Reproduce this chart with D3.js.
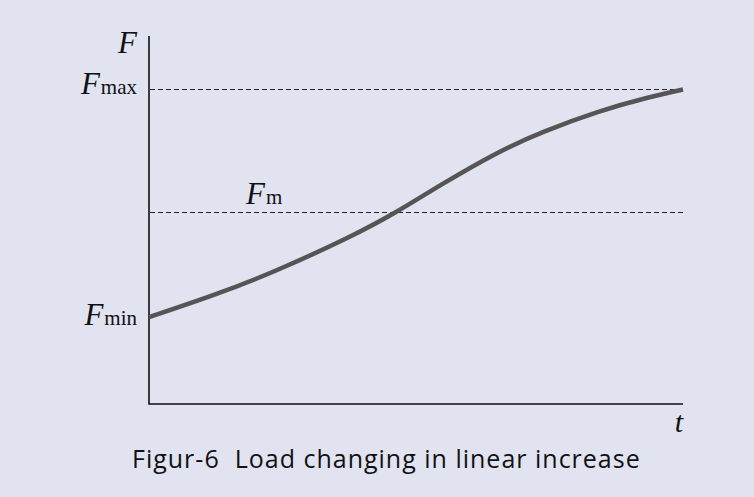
<!DOCTYPE html>
<html>
<head>
<meta charset="utf-8">
<script src="https://cdn.jsdelivr.net/npm/d3@7"></script>
<style>
	body { margin:0; background:#e1e3f1; }
	svg { display:block; }
</style>
</head>
<body>
<svg class="chart"></svg>
<script>

// load curve (t in arbitrary units, F in % of Fmax)
var tValues = [0, 1.2, 2.4, 3.7, 4.6, 5.5, 6.5, 7.4, 8.4, 9.3, 10];
var fValues = [27.6, 34.6, 42.6, 52.7, 60.8, 70.0, 79.6, 86.6, 92.8, 97.2, 100];

// reference levels
var levelNames = ['max', 'm', 'min'];
var levelValues = [100, 61.2, 27.6];

var caption = 'Figur-6\u00a0\u00a0Load changing in linear increase';

var config = {
	width: 754,
	height: 497,
	left: 149,
	right: 683,
	top: 36,
	bottom: 404,
	tMax: 10,
	fMax: 117,
	mathFont: '"Liberation Serif", "DejaVu Serif", serif',
};

var data = tValues.map((t,i) => ({t:t, f:fValues[i]}));

var xScale = d3.scaleLinear()
				.domain([0,config.tMax])
				.range([config.left,config.right]);

var yScale = d3.scaleLinear()
				.domain([0,config.fMax])
				.range([config.bottom,config.top]);

var svg = d3.select('.chart')
			.attr('width',config.width)
			.attr('height',config.height);

svg.append('rect')
	.attr('width',config.width)
	.attr('height',config.height)
	.attr('fill','#e1e3f1');

//dashed level lines (max and m)
[0,1].forEach(function(i){
	svg.append('line')
		.attr('x1',xScale(0)+1)
		.attr('x2',xScale(config.tMax))
		.attr('y1',Math.round(yScale(levelValues[i]))+0.5)
		.attr('y2',Math.round(yScale(levelValues[i]))+0.5)
		.attr('stroke','#222')
		.attr('stroke-width',1)
		.attr('stroke-dasharray','5,3');
});

//axes
svg.append('path')
	.attr('d','M'+xScale(0)+','+yScale(config.fMax)+'V'+yScale(0)+'H'+xScale(config.tMax))
	.attr('fill','none')
	.attr('stroke','#111')
	.attr('stroke-width',1.6);

//curve
var lineGen = d3.line()
				.x(d => xScale(d.t))
				.y(d => yScale(d.f))
				.curve(d3.curveNatural);

svg.append('path')
	.datum(data)
	.attr('d',lineGen)
	.attr('fill','none')
	.attr('stroke','#555555')
	.attr('stroke-width',4.5);

//math labels
function mathLabel (x, y, anchor, sub) {
	var txt = svg.append('text')
				.attr('x',x)
				.attr('y',y)
				.attr('text-anchor',anchor)
				.attr('font-family',config.mathFont)
				.attr('fill','#111');
	txt.append('tspan')
		.attr('font-style','italic')
		.attr('font-size',31)
		.text('F');
	if (sub) {
		txt.append('tspan')
			.attr('font-size',21)
			.attr('dx',1)
			.text(sub);
	}
	return txt;
}

mathLabel(137, 53, 'end', null);
mathLabel(137, yScale(levelValues[0])+5, 'end', levelNames[0]);
mathLabel(137, yScale(levelValues[2])+8, 'end', levelNames[2]);
mathLabel(246, yScale(levelValues[1])-8, 'start', levelNames[1]);

svg.append('text')
	.attr('x',xScale(config.tMax)-4)
	.attr('y',config.bottom+28)
	.attr('text-anchor','middle')
	.attr('font-family',config.mathFont)
	.attr('font-style','italic')
	.attr('font-size',30)
	.attr('fill','#111')
	.text('t');

//caption
svg.append('text')
	.attr('x',132)
	.attr('y',468)
	.attr('font-family','"Open Sans", "Noto Sans", sans-serif')
	.attr('font-size',25)
	.attr('letter-spacing',1)
	.attr('fill','#111')
	.text(caption);

</script>
</body>
</html>
